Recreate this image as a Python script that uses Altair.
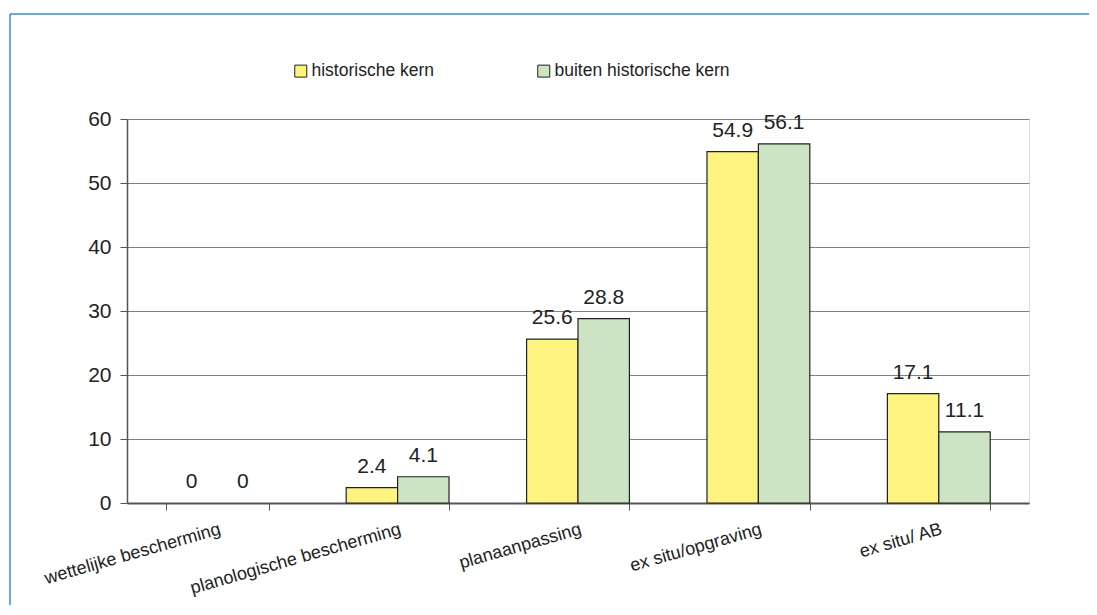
import altair as alt
import pandas as pd

categories = ["wettelijke bescherming", "planologische bescherming", "planaanpassing",
              "ex situ/opgraving", "ex situ/ AB"]
series = ["historische kern", "buiten historische kern"]
hist_values = [0, 2.4, 25.6, 54.9, 17.1]
buiten_values = [0, 4.1, 28.8, 56.1, 11.1]
y_ticks = [0, 10, 20, 30, 40, 50, 60]
colors = ["#FFF380", "#CCE3C4"]

rows = []
for c, h, b in zip(categories, hist_values, buiten_values):
    rows.append({"cat": c, "serie": series[0], "val": h, "label": f"{h:g}"})
    rows.append({"cat": c, "serie": series[1], "val": b, "label": f"{b:g}"})
df = pd.DataFrame(rows)

FONT = "Liberation Sans"

x_enc = alt.X("cat:N", sort=categories, title=None,
              scale=alt.Scale(paddingInner=0.43, paddingOuter=0.215),
              axis=alt.Axis(labelAngle=-16, labelAlign="right", labelBaseline="top",
                            labelFontSize=18, labelFont=FONT, labelColor="#222",
                            labelPadding=10, tickBand="extent", tickSize=7,
                            tickColor="#555", domainColor="#555", domainWidth=2,
                            labelLimit=400, grid=False))
xoff = alt.XOffset("serie:N", sort=series)

bars = alt.Chart(df).transform_filter("datum.val > 0").mark_bar(
    stroke="#222", strokeWidth=1.2).encode(
    x=x_enc,
    xOffset=xoff,
    y=alt.Y("val:Q", title=None,
            scale=alt.Scale(domain=[0, 60], nice=False),
            axis=alt.Axis(values=y_ticks, labelFontSize=21, labelFont=FONT,
                          labelColor="#222", labelPadding=9, tickSize=7,
                          tickColor="#555", domainColor="#555", domainWidth=1.5,
                          gridColor="#808080", gridWidth=1)),
    fill=alt.Fill("serie:N", sort=series,
                  scale=alt.Scale(domain=series, range=colors),
                  legend=alt.Legend(title=None, orient="none", legendX=165, legendY=-57,
                                    direction="horizontal", columnPadding=100,
                                    labelFontSize=17.5, labelFont=FONT, labelColor="#222",
                                    labelLimit=500,
                                    symbolType="square", symbolSize=144,
                                    symbolStrokeColor="#222", symbolStrokeWidth=1,
                                    labelOffset=2)),
)

labels = alt.Chart(df).mark_text(baseline="alphabetic", dy=-15, fontSize=21,
                                 font=FONT, color="#222").encode(
    x=alt.X("cat:N", sort=categories),
    xOffset=xoff,
    y="val:Q",
    text="label:N",
)

one = pd.DataFrame({"a": [0]})
frame_top = alt.Chart(one).mark_rule(color="#3A8CCF", strokeWidth=1.5).encode(
    x=alt.value(-117), x2=alt.value(1000), y=alt.value(-105))
frame_left = alt.Chart(one).mark_rule(color="#3A8CCF", strokeWidth=1.5).encode(
    x=alt.value(-117), y=alt.value(-105), y2=alt.value(500))

chart = alt.layer(frame_top, frame_left, bars, labels).properties(
    width=902, height=384,
    autosize=alt.AutoSizeParams(type="none"),
    padding={"left": 119, "top": 111, "right": 60, "bottom": 102},
).configure_view(stroke="#999", strokeWidth=1).configure(background="white")

chart.save("out.html", embed_options={"renderer": "svg", "actions": False})
